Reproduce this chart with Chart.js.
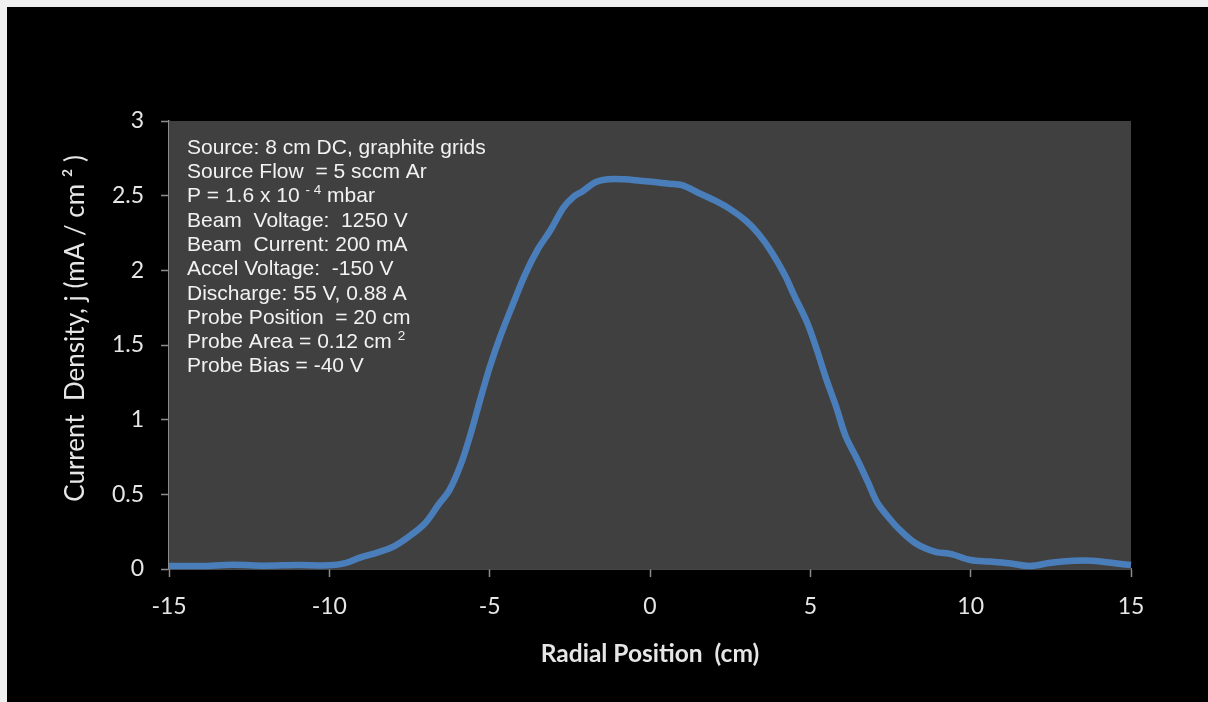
<!DOCTYPE html>
<html>
<head>
<meta charset="utf-8">
<script src="https://cdn.jsdelivr.net/npm/chart.js@4/dist/chart.umd.min.js"></script>
<style>
  html, body { margin: 0; padding: 0; background: #f0f0f0; }
  #box { position: absolute; left: 7px; top: 7px; width: 1201px; height: 695px; background: #000; }
  #c { display: block; }
</style>
</head>
<body>
<div id="box"><canvas id="c" width="1201" height="695"></canvas></div>
<script>
// radial position (cm) and current density (mA / cm2)
var radialPos = [-15, -14, -13, -12, -11, -10, -9.5, -9, -8.5, -8, -7.5, -7,
  -6.6, -6.25, -5.9, -5.6, -5.3, -5, -4.7, -4.3, -3.9, -3.5, -3.1, -2.7,
  -2.4, -2.1, -1.7, -1.3, -0.8, -0.3, 0.2, 0.6, 1, 1.5, 2, 2.5,
  3, 3.4, 3.8, 4.2, 4.5, 4.9, 5.2, 5.5, 5.8, 6.1, 6.45, 6.8,
  7.1, 7.5, 7.8, 8.3, 8.9, 9.4, 10, 10.6, 11.2, 11.85, 12.5, 13.2,
  13.8, 14.5, 15];
var currentDensity = [0.02, 0.02, 0.028, 0.022, 0.027, 0.025, 0.04, 0.08, 0.11, 0.15, 0.22, 0.31,
  0.43, 0.53, 0.7, 0.9, 1.13, 1.35, 1.54, 1.76, 1.97, 2.14, 2.27, 2.42,
  2.49, 2.53, 2.59, 2.61, 2.61, 2.6, 2.59, 2.58, 2.57, 2.52, 2.47, 2.41,
  2.33, 2.24, 2.12, 1.97, 1.83, 1.65, 1.47, 1.27, 1.09, 0.89, 0.74, 0.58,
  0.44, 0.33, 0.26, 0.17, 0.115, 0.1, 0.06, 0.05, 0.038, 0.02, 0.042, 0.055,
  0.055, 0.038, 0.027];

var xTicks = [-15, -10, -5, 0, 5, 10, 15];
var yTicks = [0, 0.5, 1, 1.5, 2, 2.5, 3];

// note lines: [text, superscript, rest]
var notes = [
  ["Source: 8 cm DC, graphite grids", "", ""],
  ["Source Flow  = 5 sccm Ar", "", ""],
  ["P = 1.6 x 10 ", "- 4", " mbar"],
  ["Beam  Voltage:  1250 V", "", ""],
  ["Beam  Current: 200 mA", "", ""],
  ["Accel Voltage:  -150 V", "", ""],
  ["Discharge: 55 V, 0.88 A", "", ""],
  ["Probe Position  = 20 cm", "", ""],
  ["Probe Area = 0.12 cm ", "2", ""],
  ["Probe Bias = -40 V", "", ""]
];

var points = radialPos.map(function(x, i){ return {x: x, y: currentDensity[i]}; });

var plotBg = {
  id: "plotBg",
  beforeDatasetsDraw: function(chart){
    var a = chart.chartArea, ctx = chart.ctx;
    ctx.save();
    ctx.fillStyle = "#404040";
    ctx.fillRect(a.left, a.top, a.right - a.left, a.bottom - a.top);
    ctx.restore();
  },
  afterDraw: function(chart){
    var a = chart.chartArea, ctx = chart.ctx;
    ctx.save();
    ctx.fillStyle = "#f2f2f2";
    ctx.textBaseline = "middle";
    var x0 = a.left + 18, y0 = a.top + 27, lh = 24.3;
    var big = "21px 'Liberation Sans', Arial, sans-serif";
    var small = "13.5px 'Liberation Sans', Arial, sans-serif";
    notes.forEach(function(n, i){
      var y = y0 + i * lh, x = x0;
      ctx.font = big;
      ctx.fillText(n[0], x, y);
      x += ctx.measureText(n[0]).width;
      if (n[1]) {
        ctx.font = small;
        ctx.fillText(n[1], x, y - 6);
        x += ctx.measureText(n[1]).width;
      }
      if (n[2]) {
        ctx.font = big;
        ctx.fillText(n[2], x, y);
      }
    });
    ctx.restore();
  }
};

var ctx = document.getElementById("c").getContext("2d");
var myChart = new Chart(ctx, {
  type: "scatter",
  data: {
    datasets: [{
      data: points,
      showLine: true,
      borderColor: "#4a7ebb",
      backgroundColor: "#4a7ebb",
      borderWidth: 6.5,
      pointRadius: 0,
      tension: 0.35,
      clip: 6
    }]
  },
  options: {
    responsive: false,
    devicePixelRatio: 1,
    animation: false,
    layout: { padding: { left: 53, right: 77, top: 114, bottom: 33 } },
    plugins: { legend: { display: false }, tooltip: { enabled: false } },
    scales: {
      x: {
        type: "linear", min: -15, max: 15,
        afterBuildTicks: function(s){ s.ticks = xTicks.map(function(v){ return {value: v}; }); },
        afterFit: function(s){ s.height = 100; },
        grid: { drawOnChartArea: false, drawTicks: true, tickLength: 8, tickColor: "#8c8c8c", tickWidth: 1.5 },
        border: { color: "#8c8c8c", width: 1.5 },
        ticks: { color: "#e6e6e6", padding: 16, font: { family: "Lato", size: 23 },
                 callback: function(v){ return String(v); } },
        title: { display: true, text: "Radial Position  (cm)", color: "#e6e6e6", padding: 0,
                 font: { family: "Lato", size: 24.5, weight: "bold" } }
      },
      y: {
        type: "linear", min: 0, max: 3,
        afterBuildTicks: function(s){ s.ticks = yTicks.map(function(v){ return {value: v}; }); },
        afterFit: function(s){ s.width = 109; },
        grid: { drawOnChartArea: false, drawTicks: true, tickLength: 8, tickColor: "#8c8c8c", tickWidth: 1.5 },
        border: { color: "#8c8c8c", width: 1.5 },
        ticks: { color: "#e6e6e6", padding: 17, font: { family: "Lato", size: 23 },
                 callback: function(v){ return String(v); } },
        title: { display: true, text: "\u00a0\u00a0\u00a0\u00a0\u00a0Current  Density, j (mA / cm \u00b2 )", color: "#e6e6e6", padding: 0,
                 font: { family: "Lato", size: 26 } }
      }
    }
  },
  plugins: [plotBg]
});
</script>
</body>
</html>
